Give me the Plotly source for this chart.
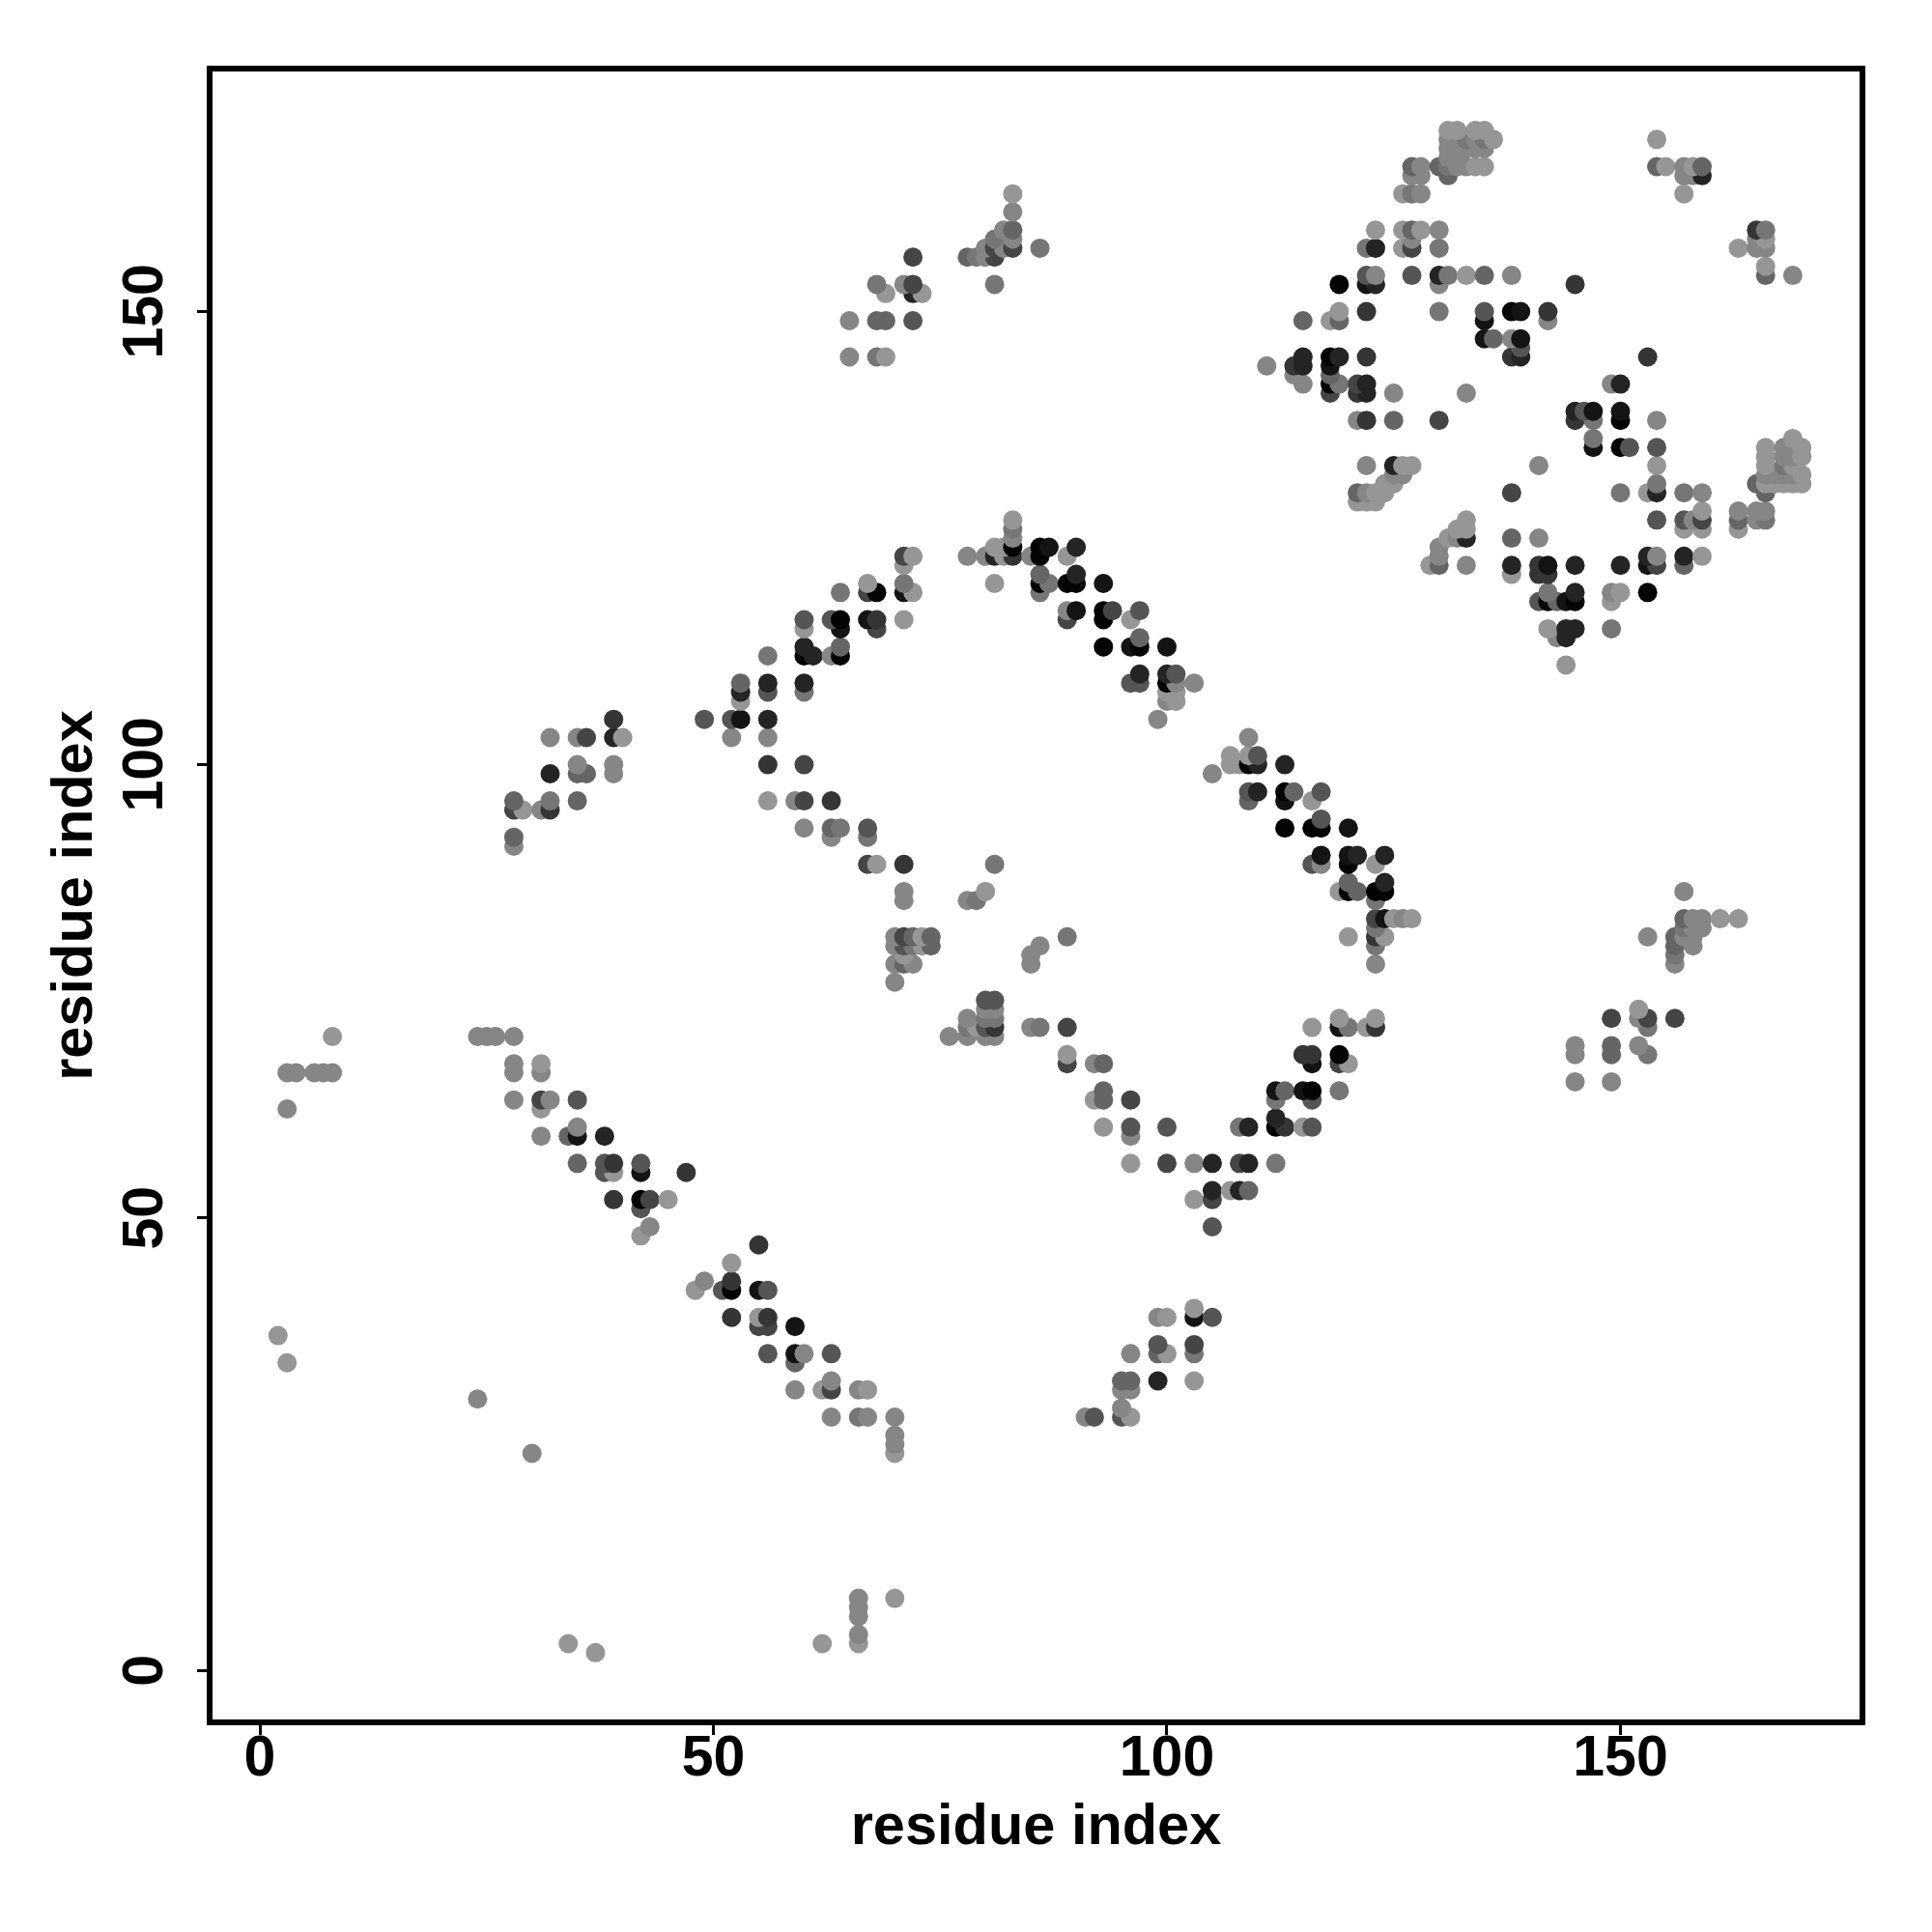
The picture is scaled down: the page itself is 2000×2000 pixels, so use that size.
import plotly.graph_objects as go

# y index of each row, the x indices in that row, and a darkness score per point
row_y = [2,3,4,6,7,8,24,25,26,28,29,30,31,32,34,35,36,37,38,39,40,42,43,45,47,48,49,51,52,53,55,56,59,60,61,62,63,64,65,66,67,68,69,70,71,72,73,74,76,78,79,80,81,82,83,85,86,87,89,90,91,92,93,94,95,96,97,99,100,101,103,105,107,108,109,110,111,112,113,114,115,116,117,118,119,120,121,122,123,124,125,126,127,128,129,130,131,132,133,134,135,136,138,139,141,142,143,144,145,146,147,149,150,152,153,154,155,156,157,158,159,161,163,165,166,167,168,169,170]

row_x = [
[37],[34,62,66],[66],[66],[66],[66,70],[30,70],[70],[70],
[63,66,67,70,91,92,95,96],[95],[24],[59,62,63,66,67,95,96],[63,95,96,99,103],[3,59],
[56,59,60,63,96,99,100,103],[99,103],[2],[55,56,59],[52,55,56,99,100,103,105],[103],
[48,51,52,55,56],[49,52],[52],[55],[42],[43,105],[42],[39,42,43,45,103,105],[105,107,108,109],
[38,39,42,47],[35,38,39,42,96,100,103,105,108,109,112],[31,34,35,38,96],
[35,93,96,100,108,109,112,113,115,116],[112],[3,31],[28,31,32,35,92,93,96,112,116],
[93,112,113,115,116,119],[145,149],[3,4,6,7,8,28,31],[28,31,89,92,93,116,119,120],
[89,115,116,119,145,149,153],[145,149,152],[8,24,25,26,28,76,78,80,81],
[78,79,80,81,85,86,89,116,119,120,122,123,153],[78,80,81,119,123,149,152,153,156],
[80,81,152],[80,81],[70],[70,71,72,85,123,156],[71,85,156],[70,71,72,73,74,86,123,156,158],
[70,71,72,73,74,89,120,123,124,153,156,157,158],[123,157,158,159],
[123,124,125,126,127,157,158,159,161,163],[71,78,79,123],[71,80,119,120,121,123,124,157],
[120,124],[67,68,71,81,116,117,120,123],[117,120,121,124],[28],[28,63,67],
[60,63,64,67,113,116,117,120],[117],[28,29,31,32],[28,32,35,56,59,60,63,109,113,116],
[109,110,113,114,117],[32,35,36,39,105],[35,39,56,60,107,108,109,110,113],[107,109,110],
[32,35,36,39,40,52,56,109],[39,49,52,53,56,99],[53,100,101],[53,56,60,100,101],
[53,56,60,96,97,100,101,103],[97,100,101],[144],[56,60,61,63,64],[60,64,93,96,97,100],
[97,143,144],[60,64,68,142,144,145,149],[60,63,64,67,68,71,89,93,96],[89,90,93,94,97],
[141,142,143,144,145,149],[64,67,68,71,72,86,142,145,149,150,153],
[67,71,81,86,87,89,90,93],[86,90,138,141,142],[71,129,130,133,138,141,142,145,150,153,154,157],
[71,72,78,80,81,82,83,85,86,89,130,153,154,157,159],[81,82,83,86,87,90,130],
[83,131,132,133,138,141],[83,132,133,157,159,163],[83,133,154,157,158,159,163,165,166],
[159,163,165,166],[121,122,123],[121,122,123,124,138,150,153,154,157,159,166],
[124,125,154,165,166,167,168,169,170],[125,126,166,167,168,169,170],
[122,125,126,127,141,154,166,168,169],[166,168,169,170],[147,150,151,154,166,168,170],
[147,169],[121,122,125,130,145,147,150,154],[145,146,147,150],[118,121,122,125,133],
[115,118,119,121,122,149,150],[114,118],[111,114,115,118],
[65,68,69,115,118,119,122,138,139,153],[139],[135,136,138,139],
[65,68,69,72,115,118,119,135,142],[119,122,130,135,138,139,142],[69,72,73],
[68,71,72,81,119,122,123,130,145],[122,123,127,130,131,133,135,138,166,169],[166],
[72,78,79,80,81],[80,81,82,83,86,122,123,126,127,130,163,165,166],[81,83,127,165,166],
[82,83,123,126,127,128,130,165,166],[83],[83,126,127,128,157],[127,128,131,157,158,159],
[127,128,130,131,132,133,134,135,154,155,157,158,159],[131,132],[131,132,133,134,135],
[131,133,134,135,136,154],[131,132,134,135],
]

row_score = [
[0],[0,0,0],[1],[1],[1],[1,0],[1,0],[1],[1],
[1,2,1,1,1,4,4,0],[1],[1],[1,0,5,1,0,1,1],[1,3,3,7,0],[0,3],
[4,8,1,4,1,3,0,2],[4,5],[0],[5,5,8],[6,0,6,1,0,8,4],[0],
[0,4,9,8,4],[1,6],[0],[6],[0],[1,4],[4],[6,9,5,0,0,5],[7,0,7,3],
[4,0,8,6],[3,4,6,4,0,5,1,7,5,7,2],[1,3,8,7,1],
[1,0,4,4,2,7,9,6,0,4],[7],[1,0],[1,5,1,4,0,3,5,2,4],
[3,8,3,8,9,2],[1,1],[1,1,1,1,1,1,1],[1,0,5,1,3,8,5,0],
[0,6,6,9,1,3,2],[1,3,1],[0,1,1,1,1,1,1,1,1],
[2,0,4,6,1,2,5,0,8,2,0,6,2],[1,2,2,0,0,5,1,5,5],
[1,1,0],[4,4],[1],[1,3,1,1,1,1],[0,1,2],[1,4,2,0,3,1,2,3,1],
[1,5,3,0,3,2,0,6,0,1,3,1,1],[2,2,1,1],
[5,8,0,1,0,3,1,1,0,0],[1,1,2,2],[1,0,0,9,3,9,9,1],
[3,7],[5,0,6,2,4,1,9,0],[8,8,7,7],[1],[3,1,2],
[1,3,2,4,9,9,9,8],[4],[5,0,1,6],[3,2,3,0,1,5,6,3,8,0],
[4,7,9,3,4],[7,3,3,1,1],[1,1,6,5,0,0,9,7,7],[0,0,4],
[1,1,5,7,0,1,1,1],[6,4,4,8,7,1],[0,1,0],[7,4,2,0,0],
[3,7,7,4,4,9,1,1],[7,7,4],[0],[2,9,7,1,9],[7,3,9,8,9,8],
[3,1,7],[0,8,5,0,7,7,2],[4,4,9,8,6,0,5,9,0],[1,8,9,5,4],
[4,9,3,8,9,0],[2,5,9,8,0,2,2,7,1,0,9],
[0,2,0,9,2,9,9,8],[3,7,0,6,6],[0,0,3,1,7,6,8,7,7,8,5,3],
[5,0,1,1,7,0,6,1,9,0,1,7,1,7,0],[0,0,9,9,8,7,1],
[1,0,1,7,3,1],[2,0,0,0,0,0],[0,0,4,4,1,5,3,1,2],
[0,1,1,1],[0,0,0],[3,1,0,0,5,2,0,7,2,1,3],
[0,0,2,3,0,0,0,0,0],[1,1,1,1,1,1,0],
[1,7,0,0,1,0,0,2,0],[0,1,1,0],[8,9,4,4,0,1,0],
[2,0],[1,6,3,5,6,2,9,1],[7,4,8,8],[5,6,7,1,1],
[1,9,2,5,7,1,7],[1,3],[1,6,7,8],
[1,2,0,7,9,7,6,6,7,6],[4],[8,3,1,8],
[1,3,3,4,3,0,3,8,1],[0,6,2,4,9,8,6],[0,7,0],
[2,1,5,2,9,8,7,1,6],[4,1,4,7,2,0,3,1,3,1],[0],
[5,3,2,1,5],[1,5,1,5,2,2,7,0,5,2,0,1,1],[2,1,1,1,0],
[1,3,0,0,3,0,1,6,2],[1],[0,0,2,1,0],[1,1,3,1,1,7],
[3,1,3,2,1,1,0,0,3,0,1,0,3],[1,1],[1,1,1,1,1],
[1,2,1,2,0,0],[0,0,0,0],
]

x_ticks = [0, 50, 100, 150]
y_ticks = [0, 50, 100, 150]
axis_label = "residue index"

xs, ys, scores = [], [], []
for y, row, score in zip(row_y, row_x, row_score):
    pairs = sorted(zip(row, score))
    for x, s in pairs:
        xs.append(x)
        ys.append(y)
        scores.append(s)

fig = go.Figure(go.Scatter(
    x=xs, y=ys, mode="markers",
    marker=dict(size=20, color=scores, cmin=0, cmax=9,
                colorscale=[[0, "rgb(150,150,150)"], [1, "rgb(4,4,4)"]],
                showscale=False, line=dict(width=0)),
))

font = dict(family="Liberation Sans", size=59, color="black", weight="bold")
title_font = dict(family="Liberation Sans", size=59.5, color="black", weight="bold")
common = dict(showgrid=False, zeroline=False, showline=True, mirror=True,
              linecolor="black", linewidth=6, ticks="outside", ticklen=10,
              tickwidth=3, tickcolor="black", tickfont=font,
              tickmode="array")
fig.update_xaxes(range=[-5.22, 176.36], tickvals=x_ticks, ticktext=[str(t) for t in x_ticks],
                 ticklabelstandoff=-29,
                 title=dict(text=axis_label, font=title_font, standoff=20), **common)
fig.update_yaxes(range=[-5.37, 176.5], tickvals=y_ticks, showticklabels=False,
                 title=dict(text=axis_label, font=title_font, standoff=91), **common)
for t in y_ticks:
    fig.add_annotation(text=str(t), x=0, xref="paper", y=t, yref="y",
                       xshift=-72, xanchor="center", yanchor="middle",
                       textangle=-90, showarrow=False, font=font)
fig.update_layout(width=1992, height=1992, autosize=False, showlegend=False,
                  paper_bgcolor="white", plot_bgcolor="white",
                  margin=dict(l=212, r=75, t=66, b=220, autoexpand=False))
fig.write_html("out.html")
